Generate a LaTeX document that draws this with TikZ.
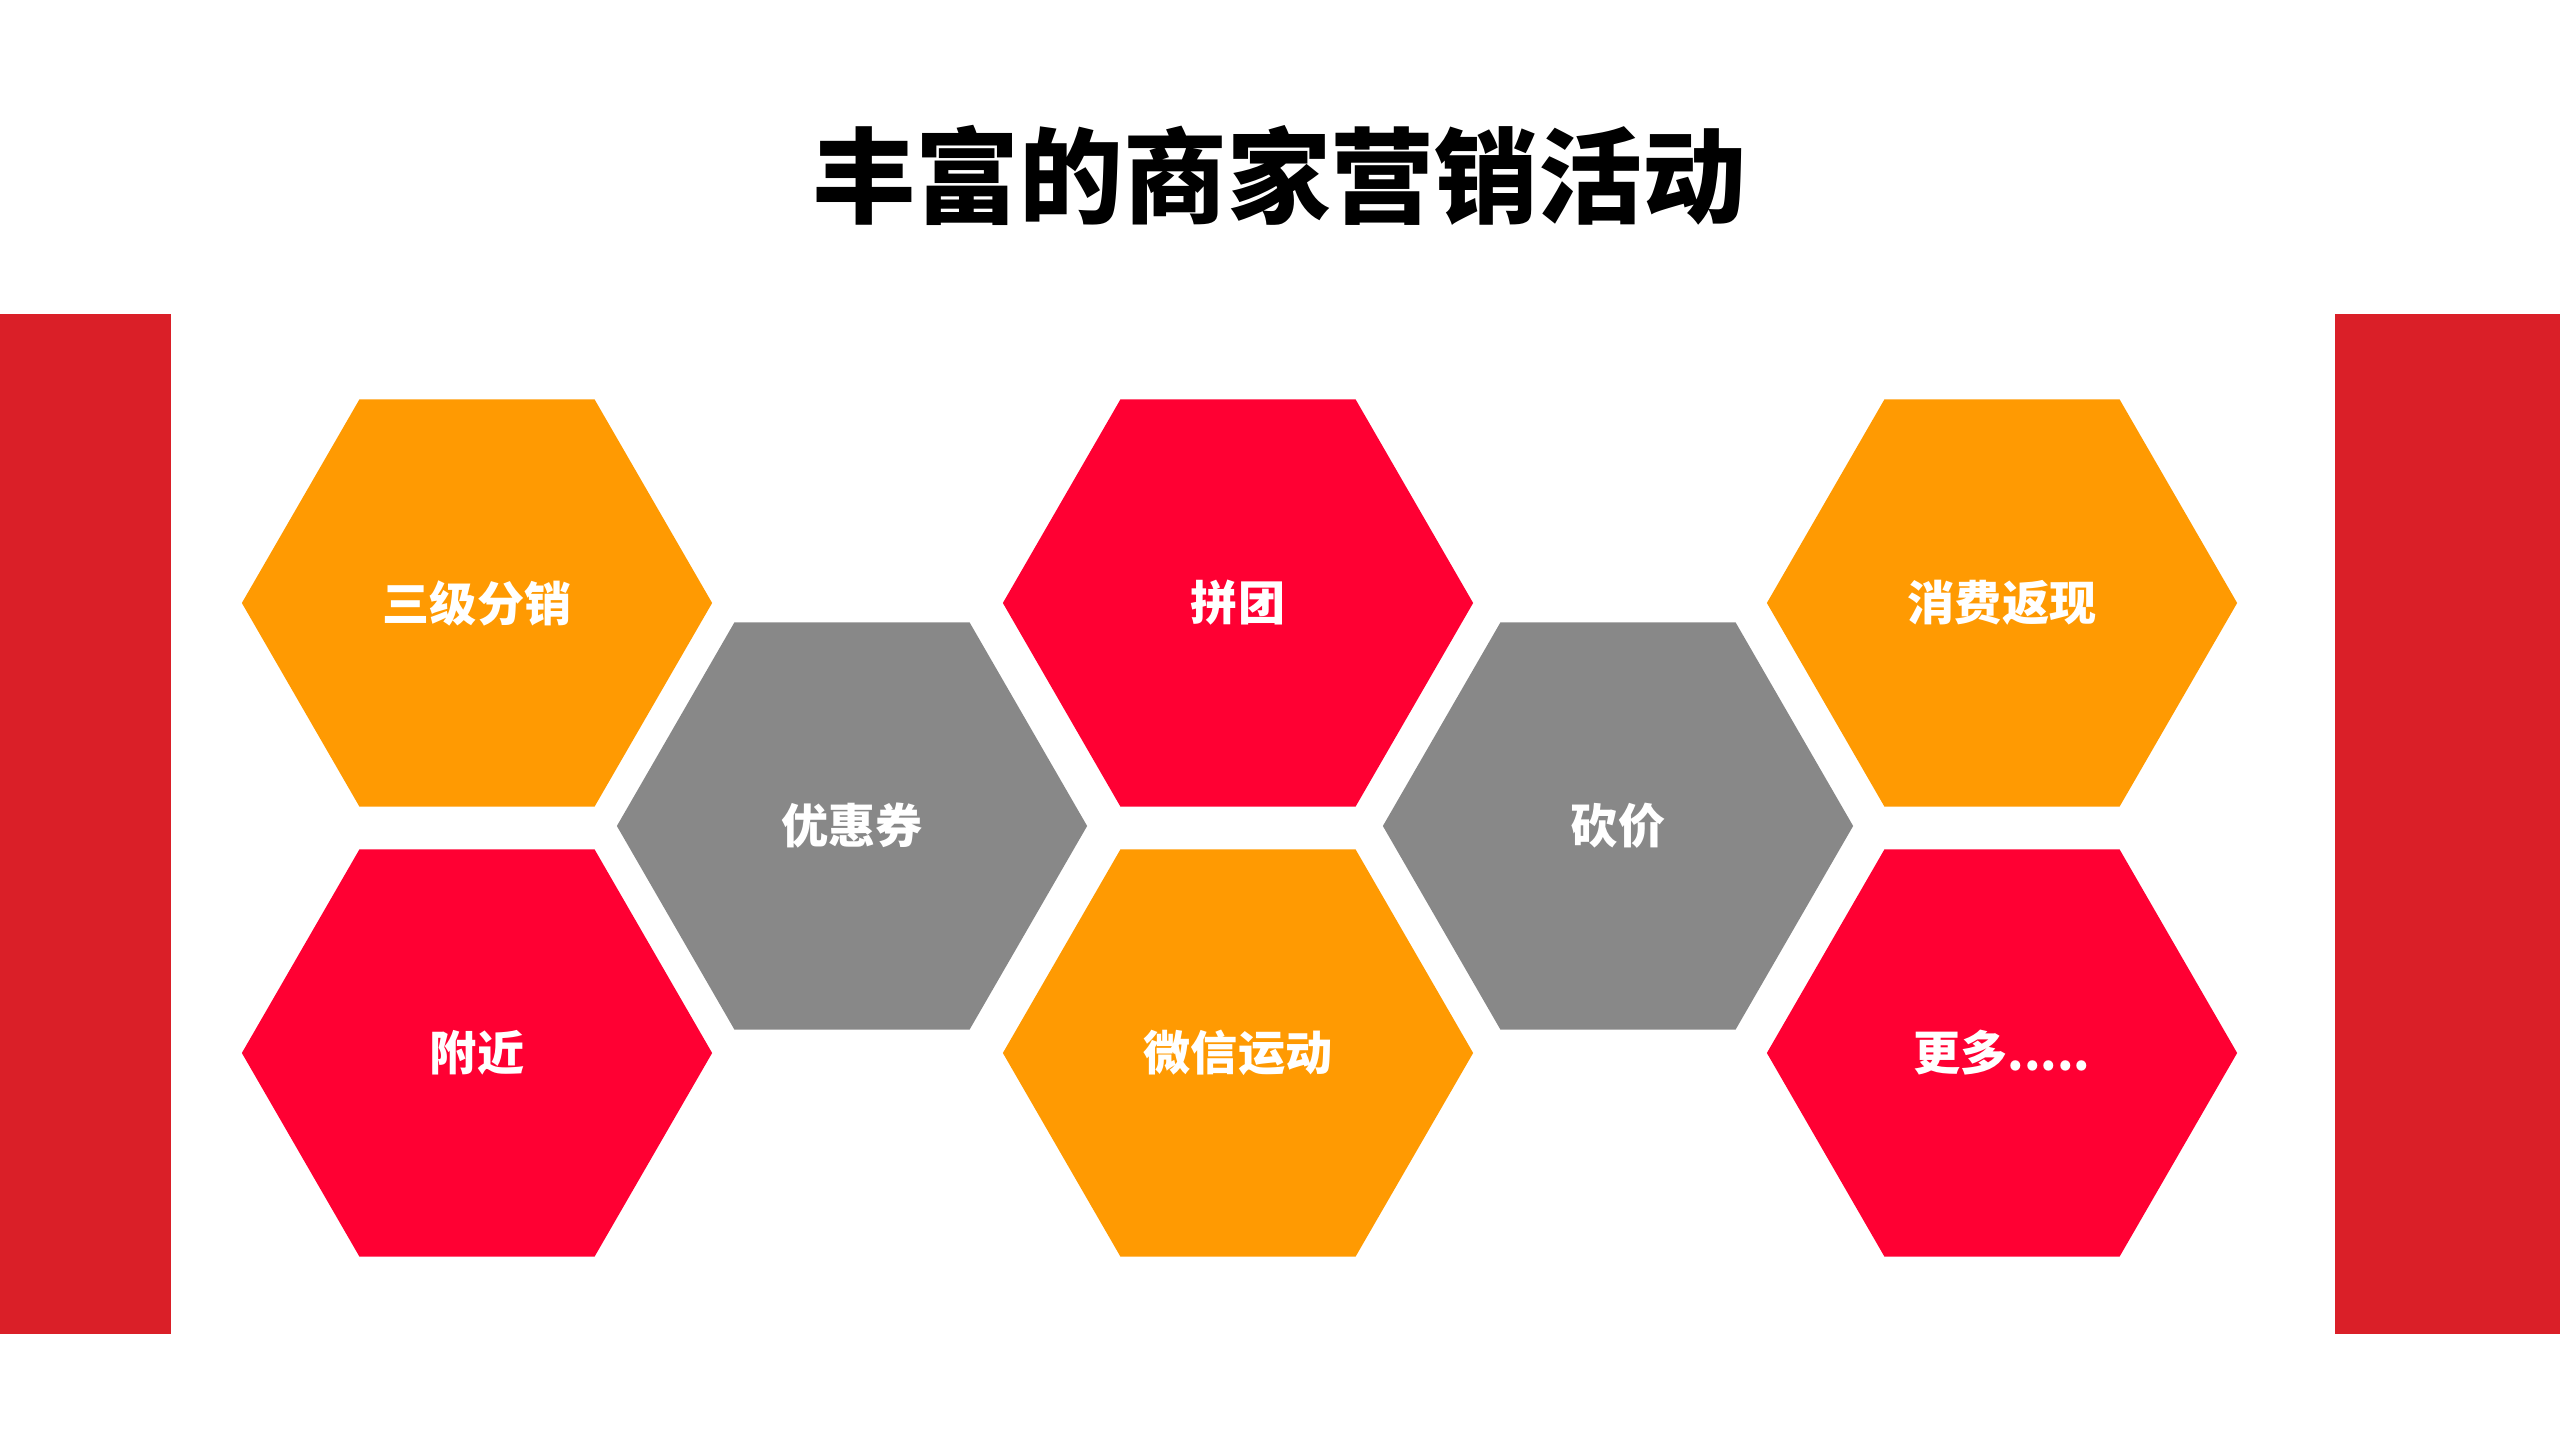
\documentclass[tikz,border=0pt]{standalone}
\usepackage{fontspec}
\usepackage{xcolor}
\newfontfamily\cjk{Noto Sans CJK SC}
\usetikzlibrary{shapes.geometric}
\definecolor{barred}{HTML}{DA1F28}
\definecolor{hexorange}{HTML}{FF9A02}
\definecolor{hexred}{HTML}{FF0033}
\definecolor{hexgray}{HTML}{888888}
\newcommand{\moretext}{更多.....}
\tikzset{
  sidebar/.style={fill=barred, draw=none},
  hexcell/.style={
    regular polygon, regular polygon sides=6,
    minimum size=4.70cm, inner sep=0pt, draw=none,
    text=white, font=\cjk\bfseries\fontsize{13.4}{16}\selectfont
  },
  titletext/.style={font=\cjk\bfseries\fontsize{29.5}{34}\selectfont, text=black}
}
\begin{document}
\begin{tikzpicture}[x=0.01cm,y=-0.01cm]
  \useasboundingbox (0,0) rectangle (2560,1440);
  % red side bars
  \fill[sidebar] (0,314) rectangle (171,1334);
  \fill[sidebar] (2335,314) rectangle (2560,1334);
  \node[titletext] (title) at (1279,175) {丰富的商家营销活动};
  % honeycomb
  \foreach \nm/\cx/\cy/\col/\txt in {
      sanji/477/603/hexorange/三级分销,
      fujin/477/1053/hexred/附近,
      youhui/852/826/hexgray/优惠券,
      pintuan/1238/603/hexred/拼团,
      weixin/1238/1053/hexorange/微信运动,
      kanjia/1618/826/hexgray/砍价,
      fanxian/2002/603/hexorange/消费返现,
      gengduo/2002/1053/hexred/\moretext} {
    \node[hexcell, fill=\col] (\nm) at (\cx,\cy) {\txt};
  }
\end{tikzpicture}
\end{document}
